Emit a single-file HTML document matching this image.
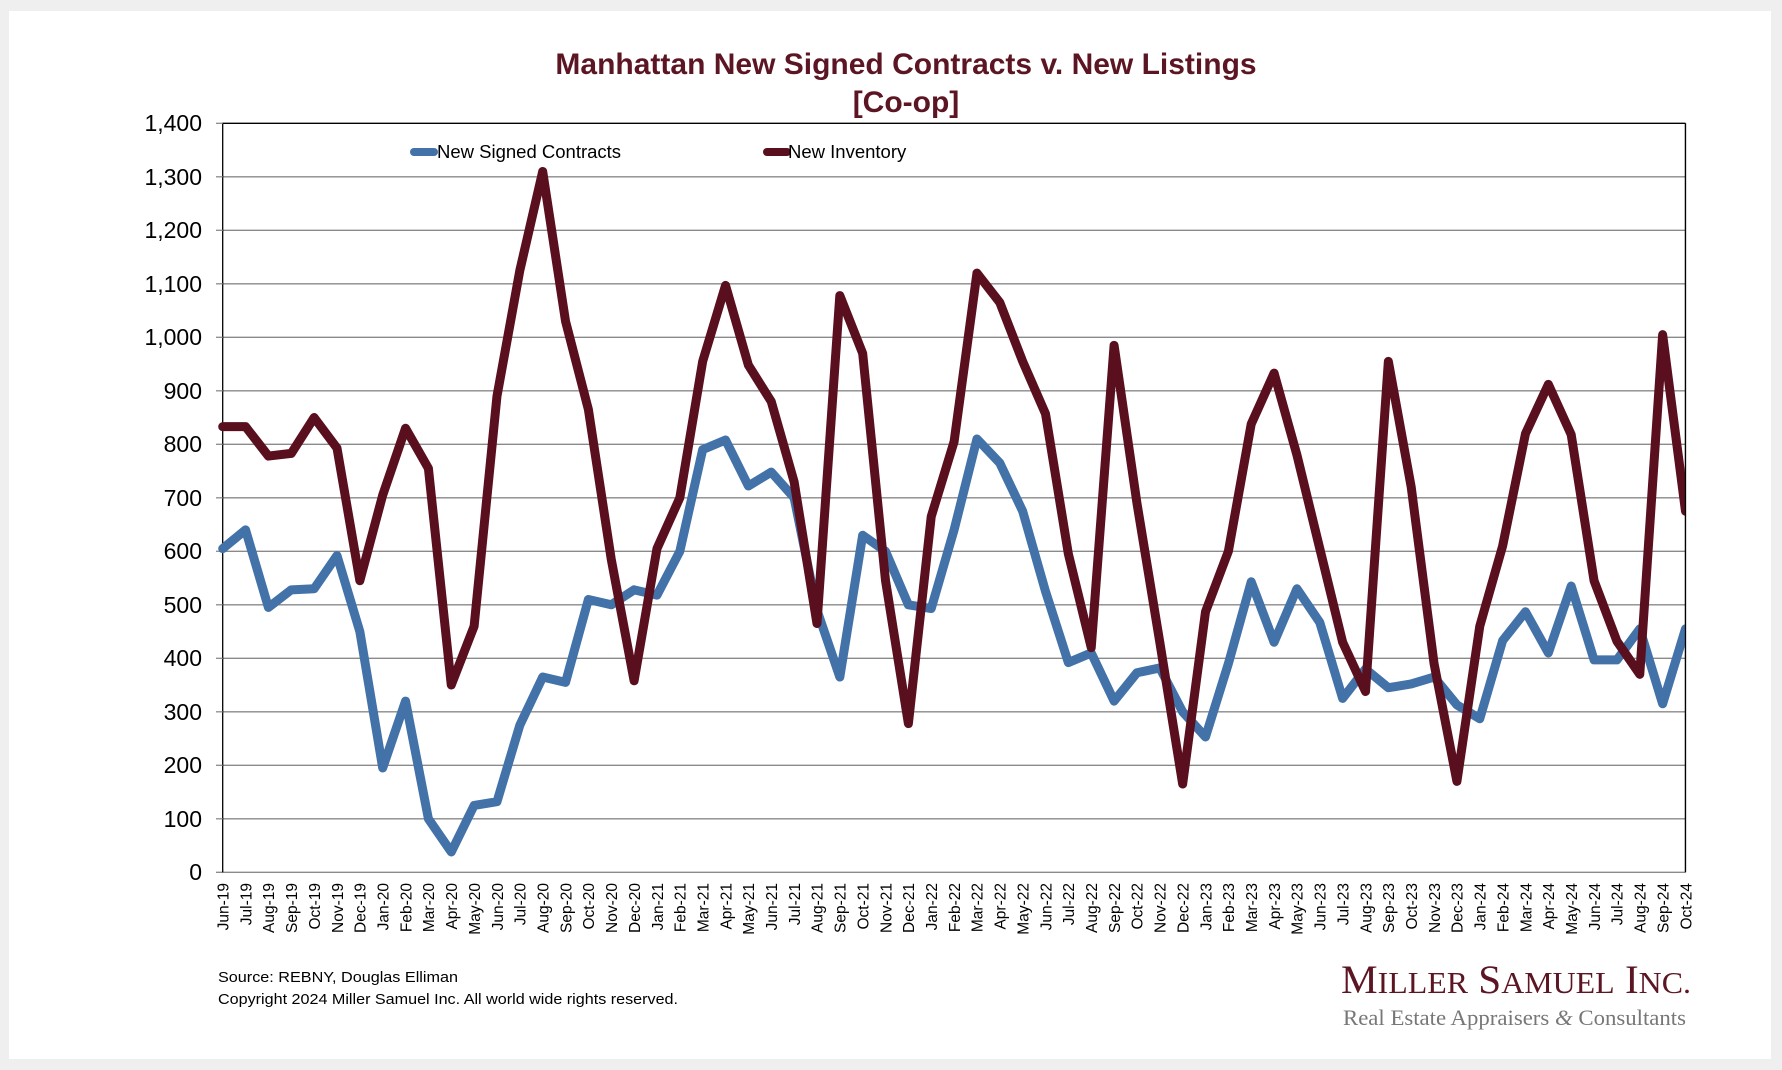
<!DOCTYPE html>
<html><head><meta charset="utf-8"><style>
html,body{margin:0;padding:0;background:#efefef;}
svg{display:block;}
</style></head><body>
<svg width="1782" height="1070" xmlns="http://www.w3.org/2000/svg" font-family="Liberation Sans, Arial, sans-serif">
<rect x="0" y="0" width="1782" height="1070" fill="#efefef"/>
<rect x="9" y="11" width="1762" height="1048" fill="#ffffff"/>
<text x="906" y="74" text-anchor="middle" font-size="30" font-weight="bold" fill="#5c1522">Manhattan New Signed Contracts v. New Listings</text>
<text x="906" y="112" text-anchor="middle" font-size="30" font-weight="bold" fill="#5c1522">[Co-op]</text>
<g stroke="#8a8a8a" stroke-width="1.3">
<line x1="222.7" x2="1685.5" y1="818.8" y2="818.8"/><line x1="222.7" x2="1685.5" y1="765.3" y2="765.3"/>
<line x1="222.7" x2="1685.5" y1="711.8" y2="711.8"/><line x1="222.7" x2="1685.5" y1="658.3" y2="658.3"/>
<line x1="222.7" x2="1685.5" y1="604.8" y2="604.8"/><line x1="222.7" x2="1685.5" y1="551.3" y2="551.3"/>
<line x1="222.7" x2="1685.5" y1="497.8" y2="497.8"/><line x1="222.7" x2="1685.5" y1="444.3" y2="444.3"/>
<line x1="222.7" x2="1685.5" y1="390.8" y2="390.8"/><line x1="222.7" x2="1685.5" y1="337.3" y2="337.3"/>
<line x1="222.7" x2="1685.5" y1="283.8" y2="283.8"/><line x1="222.7" x2="1685.5" y1="230.3" y2="230.3"/>
<line x1="222.7" x2="1685.5" y1="176.8" y2="176.8"/>
<line x1="216" x2="1685.5" y1="872.3" y2="872.3"/>
</g>
<g stroke="#000" stroke-width="1.3" fill="none">
<polyline points="222.7,872.3 222.7,123.3 1685.5,123.3 1685.5,872.3"/>
</g>
<g stroke="#8a8a8a" stroke-width="1.3">
<line x1="216" x2="222.7" y1="123.3" y2="123.3"/><line x1="216" x2="222.7" y1="176.8" y2="176.8"/><line x1="216" x2="222.7" y1="230.3" y2="230.3"/><line x1="216" x2="222.7" y1="283.8" y2="283.8"/><line x1="216" x2="222.7" y1="337.3" y2="337.3"/><line x1="216" x2="222.7" y1="390.8" y2="390.8"/><line x1="216" x2="222.7" y1="444.3" y2="444.3"/><line x1="216" x2="222.7" y1="497.8" y2="497.8"/><line x1="216" x2="222.7" y1="551.3" y2="551.3"/><line x1="216" x2="222.7" y1="604.8" y2="604.8"/><line x1="216" x2="222.7" y1="658.3" y2="658.3"/><line x1="216" x2="222.7" y1="711.8" y2="711.8"/><line x1="216" x2="222.7" y1="765.3" y2="765.3"/><line x1="216" x2="222.7" y1="818.8" y2="818.8"/>
</g>
<g font-size="23" text-anchor="end" fill="#000">
<text x="202" y="131">1,400</text><text x="202" y="185">1,300</text><text x="202" y="238">1,200</text><text x="202" y="292">1,100</text><text x="202" y="345">1,000</text><text x="202" y="399">900</text><text x="202" y="452">800</text><text x="202" y="506">700</text><text x="202" y="559">600</text><text x="202" y="613">500</text><text x="202" y="666">400</text><text x="202" y="720">300</text><text x="202" y="773">200</text><text x="202" y="827">100</text><text x="202" y="880">0</text>
</g>
<g transform="translate(222.7,872.3) scale(22.856,-0.535)" fill="none" stroke-linejoin="round" stroke-linecap="round">
<polyline vector-effect="non-scaling-stroke" stroke="#4272a8" stroke-width="9" points="0,605 1,640 2,495 3,528 4,530 5,592 6,450 7,195 8,320 9,100 10,38 11,125 12,132 13,275 14,365 15,355 16,510 17,500 18,528 19,518 20,600 21,790 22,808 23,722 24,748 25,700 26,490 27,365 28,630 29,600 30,500 31,493 32,640 33,810 34,765 35,675 36,525 37,392 38,410 39,320 40,373 41,382 42,300 43,253 44,390 45,543 46,430 47,530 48,467 49,325 50,380 51,345 52,352 53,365 54,313 55,287 56,433 57,487 58,410 59,535 60,397 61,397 62,455 63,315 64,455"/>
<polyline vector-effect="non-scaling-stroke" stroke="#5a0f1e" stroke-width="9" points="0,833 1,833 2,778 3,783 4,850 5,793 6,545 7,705 8,830 9,755 10,350 11,460 12,890 13,1125 14,1310 15,1030 16,865 17,585 18,358 19,605 20,700 21,955 22,1097 23,948 24,880 25,730 26,465 27,1078 28,970 29,545 30,278 31,665 32,805 33,1120 34,1065 35,955 36,857 37,595 38,420 39,985 40,690 41,430 42,165 43,487 44,600 45,838 46,933 47,780 48,605 49,430 50,338 51,955 52,720 53,390 54,170 55,460 56,610 57,820 58,912 59,818 60,545 61,432 62,370 63,1005 64,675"/>
</g>
<rect x="1685.5" y="120" width="20" height="760" fill="#fff"/>
<line x1="1685.5" x2="1685.5" y1="123.3" y2="872.3" stroke="#000" stroke-width="1.3"/>
<line x1="414" x2="434" y1="152" y2="152" stroke="#4272a8" stroke-width="8" stroke-linecap="round"/>
<text x="437" y="158" font-size="18.5" fill="#000">New Signed Contracts</text>
<line x1="767" x2="787" y1="152" y2="152" stroke="#5a0f1e" stroke-width="8" stroke-linecap="round"/>
<text x="788" y="158" font-size="18.5" fill="#000">New Inventory</text>
<g font-size="15.5" text-anchor="end" fill="#000">
<text transform="translate(228.5,883) rotate(-90)">Jun-19</text>
<text transform="translate(251.4,883) rotate(-90)">Jul-19</text>
<text transform="translate(274.2,883) rotate(-90)">Aug-19</text>
<text transform="translate(297.1,883) rotate(-90)">Sep-19</text>
<text transform="translate(319.9,883) rotate(-90)">Oct-19</text>
<text transform="translate(342.8,883) rotate(-90)">Nov-19</text>
<text transform="translate(365.6,883) rotate(-90)">Dec-19</text>
<text transform="translate(388.5,883) rotate(-90)">Jan-20</text>
<text transform="translate(411.3,883) rotate(-90)">Feb-20</text>
<text transform="translate(434.2,883) rotate(-90)">Mar-20</text>
<text transform="translate(457.1,883) rotate(-90)">Apr-20</text>
<text transform="translate(479.9,883) rotate(-90)">May-20</text>
<text transform="translate(502.8,883) rotate(-90)">Jun-20</text>
<text transform="translate(525.6,883) rotate(-90)">Jul-20</text>
<text transform="translate(548.5,883) rotate(-90)">Aug-20</text>
<text transform="translate(571.3,883) rotate(-90)">Sep-20</text>
<text transform="translate(594.2,883) rotate(-90)">Oct-20</text>
<text transform="translate(617.0,883) rotate(-90)">Nov-20</text>
<text transform="translate(639.9,883) rotate(-90)">Dec-20</text>
<text transform="translate(662.8,883) rotate(-90)">Jan-21</text>
<text transform="translate(685.6,883) rotate(-90)">Feb-21</text>
<text transform="translate(708.5,883) rotate(-90)">Mar-21</text>
<text transform="translate(731.3,883) rotate(-90)">Apr-21</text>
<text transform="translate(754.2,883) rotate(-90)">May-21</text>
<text transform="translate(777.0,883) rotate(-90)">Jun-21</text>
<text transform="translate(799.9,883) rotate(-90)">Jul-21</text>
<text transform="translate(822.7,883) rotate(-90)">Aug-21</text>
<text transform="translate(845.6,883) rotate(-90)">Sep-21</text>
<text transform="translate(868.5,883) rotate(-90)">Oct-21</text>
<text transform="translate(891.3,883) rotate(-90)">Nov-21</text>
<text transform="translate(914.2,883) rotate(-90)">Dec-21</text>
<text transform="translate(937.0,883) rotate(-90)">Jan-22</text>
<text transform="translate(959.9,883) rotate(-90)">Feb-22</text>
<text transform="translate(982.7,883) rotate(-90)">Mar-22</text>
<text transform="translate(1005.6,883) rotate(-90)">Apr-22</text>
<text transform="translate(1028.5,883) rotate(-90)">May-22</text>
<text transform="translate(1051.3,883) rotate(-90)">Jun-22</text>
<text transform="translate(1074.2,883) rotate(-90)">Jul-22</text>
<text transform="translate(1097.0,883) rotate(-90)">Aug-22</text>
<text transform="translate(1119.9,883) rotate(-90)">Sep-22</text>
<text transform="translate(1142.7,883) rotate(-90)">Oct-22</text>
<text transform="translate(1165.6,883) rotate(-90)">Nov-22</text>
<text transform="translate(1188.4,883) rotate(-90)">Dec-22</text>
<text transform="translate(1211.3,883) rotate(-90)">Jan-23</text>
<text transform="translate(1234.2,883) rotate(-90)">Feb-23</text>
<text transform="translate(1257.0,883) rotate(-90)">Mar-23</text>
<text transform="translate(1279.9,883) rotate(-90)">Apr-23</text>
<text transform="translate(1302.7,883) rotate(-90)">May-23</text>
<text transform="translate(1325.6,883) rotate(-90)">Jun-23</text>
<text transform="translate(1348.4,883) rotate(-90)">Jul-23</text>
<text transform="translate(1371.3,883) rotate(-90)">Aug-23</text>
<text transform="translate(1394.1,883) rotate(-90)">Sep-23</text>
<text transform="translate(1417.0,883) rotate(-90)">Oct-23</text>
<text transform="translate(1439.9,883) rotate(-90)">Nov-23</text>
<text transform="translate(1462.7,883) rotate(-90)">Dec-23</text>
<text transform="translate(1485.6,883) rotate(-90)">Jan-24</text>
<text transform="translate(1508.4,883) rotate(-90)">Feb-24</text>
<text transform="translate(1531.3,883) rotate(-90)">Mar-24</text>
<text transform="translate(1554.1,883) rotate(-90)">Apr-24</text>
<text transform="translate(1577.0,883) rotate(-90)">May-24</text>
<text transform="translate(1599.8,883) rotate(-90)">Jun-24</text>
<text transform="translate(1622.7,883) rotate(-90)">Jul-24</text>
<text transform="translate(1645.6,883) rotate(-90)">Aug-24</text>
<text transform="translate(1668.4,883) rotate(-90)">Sep-24</text>
<text transform="translate(1691.3,883) rotate(-90)">Oct-24</text>
</g>
<text x="218" y="982" font-size="15" fill="#000" textLength="240" lengthAdjust="spacingAndGlyphs">Source: REBNY, Douglas Elliman</text>
<text x="218" y="1004" font-size="15" fill="#000" textLength="460" lengthAdjust="spacingAndGlyphs">Copyright 2024 Miller Samuel Inc.  All world wide rights reserved.</text>
<text x="1341" y="993" font-family="Liberation Serif, serif" fill="#5c1522" font-size="40" textLength="350" lengthAdjust="spacingAndGlyphs">M<tspan font-size="31">ILLER</tspan> S<tspan font-size="31">AMUEL</tspan> I<tspan font-size="31">NC.</tspan></text>
<text x="1343" y="1025" font-family="Liberation Serif, serif" fill="#777" font-size="22" textLength="343" lengthAdjust="spacingAndGlyphs">Real Estate Appraisers <tspan font-style="italic">&amp;</tspan> Consultants</text>
</svg>
</body></html>
